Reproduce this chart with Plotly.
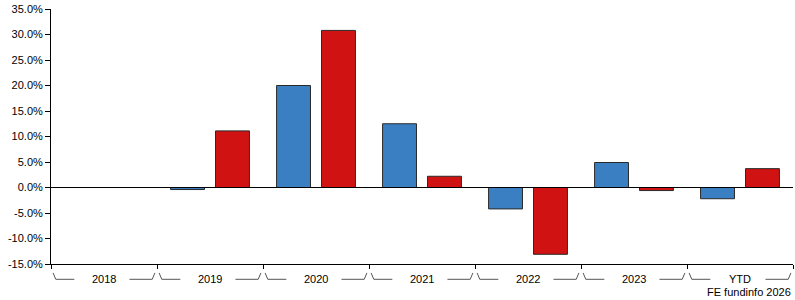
import plotly.graph_objects as go

categories = ["2018", "2019", "2020", "2021", "2022", "2023", "YTD"]
fund = [None, -0.4, 20.0, 12.5, -4.2, 4.9, -2.2]
sector = [None, 11.1, 30.8, 2.2, -13.1, -0.6, 3.7]
ytick_vals = [35, 30, 25, 20, 15, 10, 5, 0, -5, -10, -15]

idx = list(range(len(categories)))
fig = go.Figure()
fig.add_trace(go.Bar(x=idx, y=fund, width=0.32, offset=-0.372,
                     marker=dict(color="#3a7fc1", line=dict(color="#2a2a2a", width=1)),
                     showlegend=False))
fig.add_trace(go.Bar(x=idx, y=sector, width=0.32, offset=0.052,
                     marker=dict(color="#d01212", line=dict(color="#2a2a2a", width=1)),
                     showlegend=False))

# zero line
fig.add_shape(type="line", xref="paper", yref="y", x0=0, x1=1, y0=0, y1=0,
              line=dict(color="black", width=1))

# bracket decorations and labels
for i, c in enumerate(categories):
    a = i - 0.5
    b = i + 0.5
    fig.add_shape(type="path", xref="x", yref="paper",
                  path=f"M {a+0.02} -0.035 L {a+0.045} -0.06 L {a+0.22} -0.06",
                  line=dict(color="#555", width=1))
    fig.add_shape(type="path", xref="x", yref="paper",
                  path=f"M {b-0.26} -0.06 L {b-0.045} -0.06 L {b-0.02} -0.035",
                  line=dict(color="#555", width=1))
    fig.add_annotation(x=i, xref="x", y=-0.058, yref="paper", text=c, showarrow=False,
                       font=dict(family="Liberation Sans, Arial", size=11, color="black"),
                       yanchor="middle", xanchor="center")

fig.add_annotation(x=1, xref="paper", y=0, yref="paper", yshift=-36, text="FE fundinfo 2026",
                   showarrow=False, xanchor="right", yanchor="bottom",
                   font=dict(family="Liberation Sans, Arial", size=11, color="black"))

fig.update_layout(
    width=795, height=300,
    margin=dict(l=51, r=2, t=9, b=36),
    plot_bgcolor="white", paper_bgcolor="white",
    barmode="overlay",
    font=dict(family="Liberation Sans, Arial", size=11, color="black"),
    xaxis=dict(range=[-0.5, 6.5], showgrid=False, zeroline=False,
               tickvals=[i - 0.5 for i in range(len(categories) + 1)],
               ticktext=["" for _ in range(len(categories) + 1)],
               ticks="outside", ticklen=4, tickcolor="black",
               showline=True, linecolor="black", linewidth=1),
    yaxis=dict(range=[-15, 35], showgrid=False, zeroline=False,
               tickvals=ytick_vals,
               ticktext=[f"{v:.1f}%" for v in ytick_vals],
               ticks="outside", ticklen=5, tickcolor="black",
               showline=True, linecolor="black", linewidth=1),
)

fig.write_html("out.html")
